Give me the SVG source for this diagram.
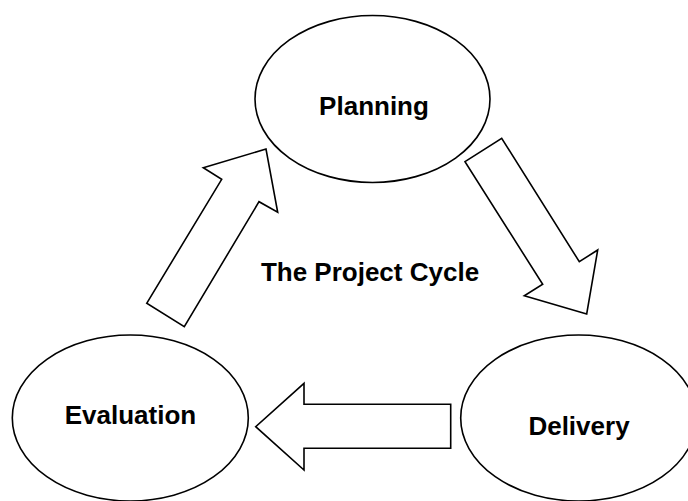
<svg xmlns="http://www.w3.org/2000/svg" width="688" height="501" viewBox="0 0 688 501">
<style>
.node{fill:#fff;stroke:#000;stroke-width:1.6}
.arrow{fill:#fff;stroke:#000;stroke-width:1.6;stroke-linejoin:miter}
.lbl{font-family:"Liberation Sans",Arial,sans-serif;font-weight:bold;font-size:26px;fill:#000;text-anchor:middle}
</style>
<rect width="688" height="501" fill="#fff"/>
<g id="planning">
<ellipse class="node" cx="372.5" cy="99" rx="117.5" ry="83.5"/>
<text class="lbl" x="374" y="115">Planning</text>
</g>
<g id="evaluation">
<ellipse class="node" cx="130.3" cy="418" rx="118" ry="83"/>
<text class="lbl" x="130.5" y="424">Evaluation</text>
</g>
<g id="delivery">
<ellipse class="node" cx="578.7" cy="418" rx="118" ry="83"/>
<text class="lbl" x="579" y="435">Delivery</text>
</g>
<g id="title">
<text class="lbl" x="370" y="281">The Project Cycle</text>
</g>
<g id="connectors">
<polygon class="arrow" points="146.7,303.3 221.7,179.3 203.3,167.7 266,149 277.7,212.3 259,201.7 184.3,326.7"/>
<polygon class="arrow" points="465,161.7 501.7,138.3 579.3,261.7 597.7,250 586.7,314 524.3,295.7 542.7,284.3"/>
<polygon class="arrow" points="450.7,404.3 304,404.3 304,383.3 255.7,426.7 304,470 304,448.3 450.7,448.3"/>
</g>
</svg>
